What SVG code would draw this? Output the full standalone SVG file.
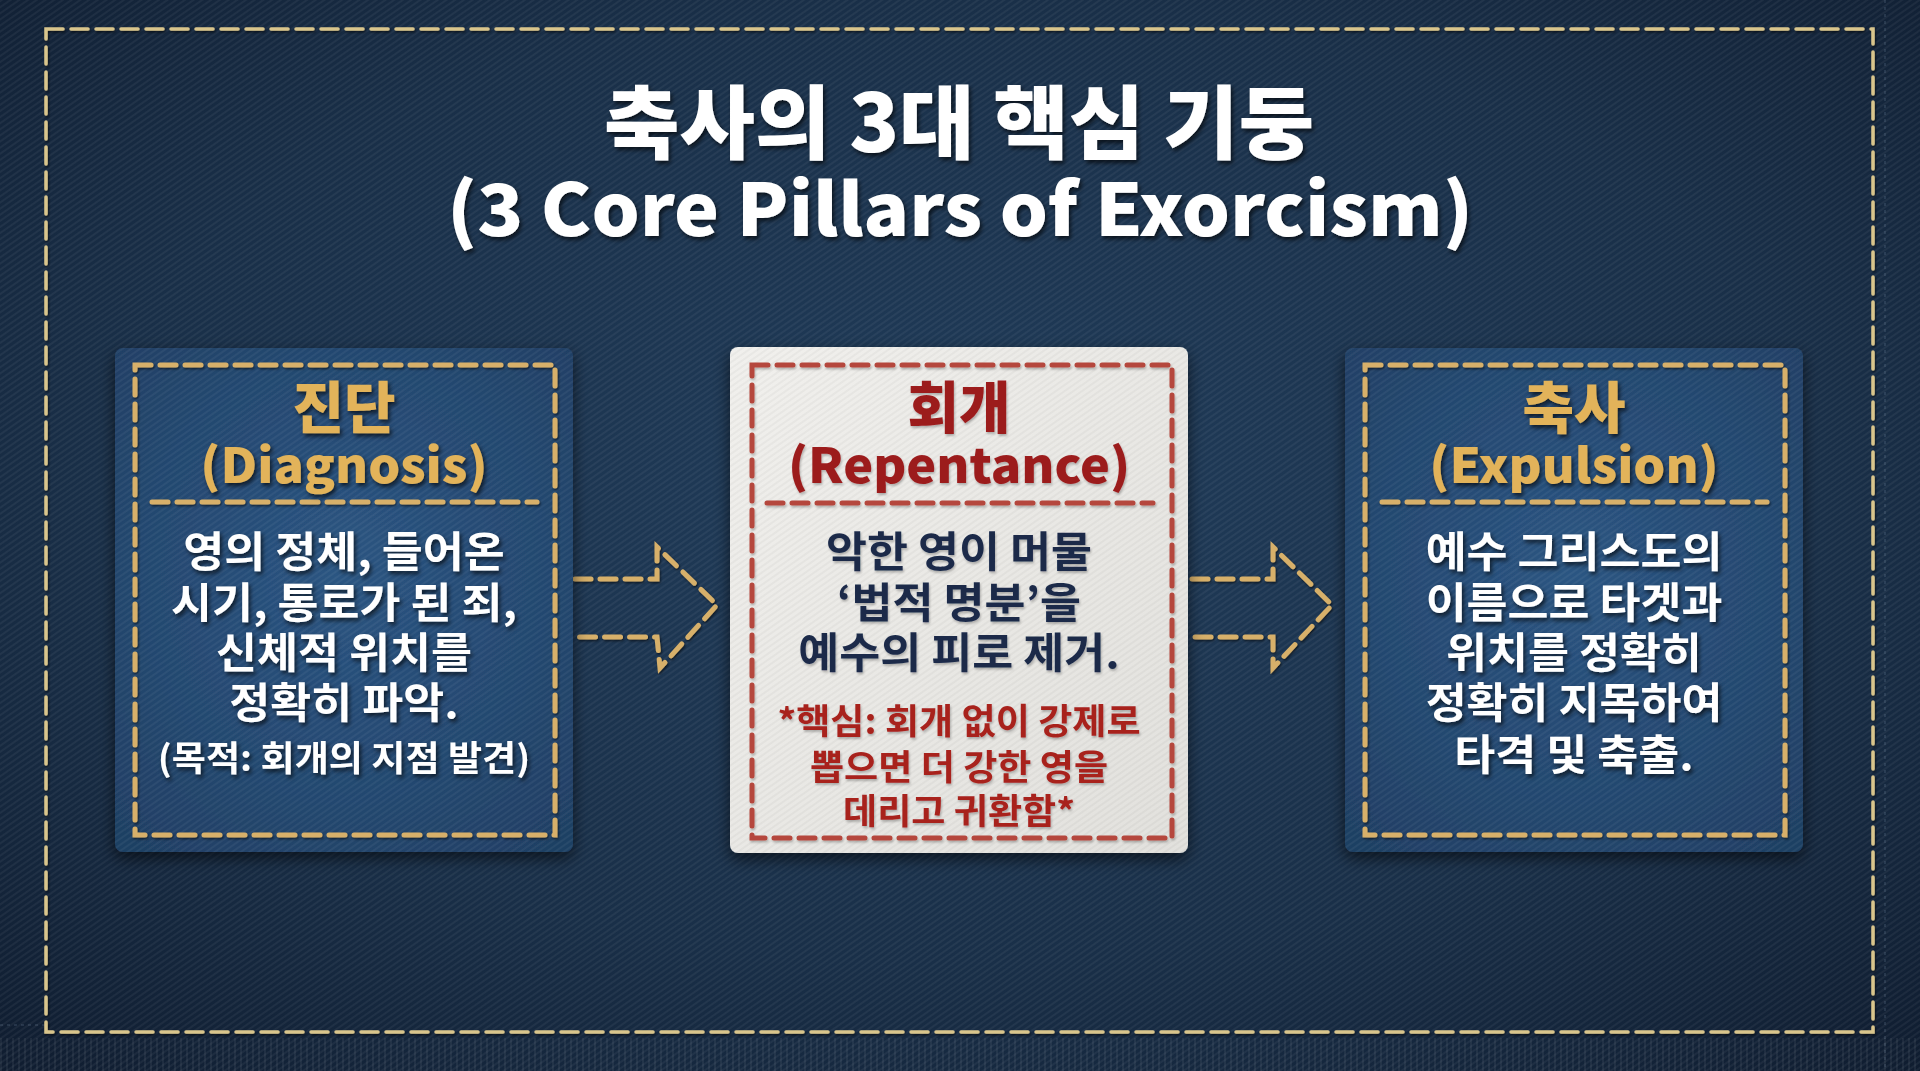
<svg xmlns="http://www.w3.org/2000/svg" width="1920" height="1071" viewBox="0 0 1920 1071">
  <defs>
    <radialGradient id="bgGrad" cx="50%" cy="45%" r="75%">
      <stop offset="0" stop-color="#203c5a"/>
      <stop offset="0.6" stop-color="#192f48"/>
      <stop offset="1" stop-color="#0f1c2f"/>
    </radialGradient>
    <radialGradient id="cardGrad" cx="50%" cy="45%" r="70%">
      <stop offset="0" stop-color="#2b5582"/>
      <stop offset="1" stop-color="#1f3f64"/>
    </radialGradient>
    <linearGradient id="whiteGrad" x1="0" y1="0" x2="1" y2="1">
      <stop offset="0" stop-color="#f1f0ed"/>
      <stop offset="1" stop-color="#e2e1dd"/>
    </linearGradient>
    <pattern id="twill" width="5" height="5" patternUnits="userSpaceOnUse" patternTransform="rotate(-35)">
      <rect width="5" height="2" fill="#ffffff" opacity="0.05"/>
    </pattern>
    <pattern id="twillDark" width="5" height="5" patternUnits="userSpaceOnUse" patternTransform="rotate(-35)">
      <rect width="5" height="2" fill="#000000" opacity="0.035"/>
    </pattern>
    <pattern id="rib" width="6" height="10" patternUnits="userSpaceOnUse">
      <rect width="2" height="10" fill="#ffffff" opacity="0.06"/>
    </pattern>
    <filter id="cardShadow" x="-10%" y="-10%" width="120%" height="120%">
      <feDropShadow dx="0" dy="6" stdDeviation="8" flood-color="#000" flood-opacity="0.6"/>
    </filter>
    <filter id="textShadow" x="-10%" y="-20%" width="120%" height="150%">
      <feDropShadow dx="2" dy="3" stdDeviation="2" flood-color="#000" flood-opacity="0.65"/>
    </filter>
    <filter id="stitchShadow" x="-5%" y="-5%" width="110%" height="110%">
      <feDropShadow dx="1" dy="1.5" stdDeviation="0.8" flood-color="#000" flood-opacity="0.6"/>
    </filter>
    <filter id="softText" x="-10%" y="-20%" width="120%" height="150%">
      <feDropShadow dx="1" dy="2" stdDeviation="1.2" flood-color="#000" flood-opacity="0.25"/>
    </filter>
  </defs>
  <style>
    text { font-family: "Noto Sans CJK KR", "Noto Sans", "Liberation Sans", sans-serif; font-weight: 700; text-anchor: middle; }
    .title { fill: #ffffff; font-weight: 900; }
    .hd { font-weight: 900; font-size: 56px; }
    .hdEn { font-weight: 900; font-size: 48px; }
    .gold { fill: #e2b35a; }
    .red { fill: #9c1d1f; }
    .body { fill: #ffffff; font-size: 42px; }
    .small { fill: #ffffff; font-size: 35px; }
    .navy { fill: #1b2a4a; font-size: 42px; }
    .note { fill: #a8231f; font-size: 35px; }
    .stitchGold { fill: none; stroke: #d7b06a; stroke-width: 5; stroke-linecap: round; stroke-dasharray: 16 9; }
    .stitchRed { fill: none; stroke: #b5473c; stroke-width: 5; stroke-linecap: round; stroke-dasharray: 16 9; }
    .stitchOuter { fill: none; stroke: #d9c58c; stroke-width: 3.5; stroke-linecap: round; stroke-dasharray: 17 8; }
  </style>

  <!-- background -->
  <rect x="0" y="0" width="1920" height="1071" fill="url(#bgGrad)"/>
  <rect x="0" y="0" width="1920" height="1071" fill="url(#twill)"/>
  <rect x="0" y="1038" width="1920" height="33" fill="url(#rib)"/>
  <line x1="1885" y1="0" x2="1885" y2="1071" stroke="#8aa0b8" stroke-width="1" stroke-dasharray="3 4" opacity="0.35"/>
  <line x1="0" y1="1025" x2="46" y2="1025" stroke="#8aa0b8" stroke-width="1" stroke-dasharray="3 4" opacity="0.35"/>
  <rect x="46" y="29" width="1827" height="1003" class="stitchOuter" filter="url(#stitchShadow)"/>

  <!-- title -->
  <g id="title" filter="url(#textShadow)">
    <text class="title" x="959" y="152" font-size="80" textLength="710" lengthAdjust="spacingAndGlyphs">축사의 3대 핵심 기둥</text>
    <text class="title" x="960" y="236" font-size="72" textLength="1026" lengthAdjust="spacingAndGlyphs">(3 Core Pillars of Exorcism)</text>
  </g>

  <!-- connectors -->
  <g id="connectors" filter="url(#stitchShadow)">
    <path class="stitchGold" d="M575,579 H657 V547 L717,605 L660,668 L657,637 H575"/>
    <path class="stitchGold" d="M1192,579 H1273 V547 L1332,605 L1273,668 V637 H1192"/>
  </g>

  <!-- node 1: diagnosis -->
  <g id="node-diagnosis">
    <rect x="115" y="348" width="458" height="504" rx="8" fill="url(#cardGrad)" filter="url(#cardShadow)"/>
    <rect x="115" y="348" width="458" height="504" rx="8" fill="url(#twill)"/>
    <g filter="url(#stitchShadow)">
      <rect x="135" y="365" width="420" height="470" class="stitchGold"/>
      <line x1="152" y1="502" x2="537" y2="502" class="stitchGold"/>
    </g>
    <g filter="url(#textShadow)">
      <text class="hd gold" x="344" y="428">진단</text>
      <text class="hdEn gold" x="344" y="483" transform="translate(344,0) scale(1.05,1) translate(-344,0)">(Diagnosis)</text>
      <g transform="translate(344,0) scale(1.06,1) translate(-344,0)">
        <text class="body" x="344" y="567">영의 정체, 들어온</text>
        <text class="body" x="344" y="618">시기, 통로가 된 죄,</text>
        <text class="body" x="344" y="668">신체적 위치를</text>
        <text class="body" x="344" y="718">정확히 파악.</text>
        <text class="small" x="344" y="771">(목적: 회개의 지점 발견)</text>
      </g>
    </g>
  </g>

  <!-- node 2: repentance -->
  <g id="node-repentance">
    <rect x="730" y="347" width="458" height="506" rx="8" fill="url(#whiteGrad)" filter="url(#cardShadow)"/>
    <rect x="730" y="347" width="458" height="506" rx="8" fill="url(#twillDark)"/>
    <g filter="url(#softText)">
      <rect x="752" y="365" width="420" height="473" class="stitchRed"/>
      <line x1="767" y1="503" x2="1153" y2="503" class="stitchRed"/>
    </g>
    <g filter="url(#softText)">
      <text class="hd red" x="959" y="428">회개</text>
      <text class="hdEn red" x="959" y="483" transform="translate(959,0) scale(1.05,1) translate(-959,0)">(Repentance)</text>
      <g transform="translate(959,0) scale(1.06,1) translate(-959,0)">
        <text class="navy" x="959" y="567">악한 영이 머물</text>
        <text class="navy" x="959" y="618">‘법적 명분’을</text>
        <text class="navy" x="959" y="668">예수의 피로 제거.</text>
        <text class="note" x="959" y="734">*핵심: 회개 없이 강제로</text>
        <text class="note" x="959" y="780">뽑으면 더 강한 영을</text>
        <text class="note" x="959" y="824">데리고 귀환함*</text>
      </g>
    </g>
  </g>

  <!-- node 3: expulsion -->
  <g id="node-expulsion">
    <rect x="1345" y="348" width="458" height="504" rx="8" fill="url(#cardGrad)" filter="url(#cardShadow)"/>
    <rect x="1345" y="348" width="458" height="504" rx="8" fill="url(#twill)"/>
    <g filter="url(#stitchShadow)">
      <rect x="1365" y="365" width="420" height="470" class="stitchGold"/>
      <line x1="1382" y1="502" x2="1767" y2="502" class="stitchGold"/>
    </g>
    <g filter="url(#textShadow)">
      <text class="hd gold" x="1574" y="428">축사</text>
      <text class="hdEn gold" x="1574" y="483" transform="translate(1574,0) scale(1.05,1) translate(-1574,0)">(Expulsion)</text>
      <g transform="translate(1574,0) scale(1.06,1) translate(-1574,0)">
        <text class="body" x="1574" y="567">예수 그리스도의</text>
        <text class="body" x="1574" y="618">이름으로 타겟과</text>
        <text class="body" x="1574" y="668">위치를 정확히</text>
        <text class="body" x="1574" y="718">정확히 지목하여</text>
        <text class="body" x="1574" y="770">타격 및 축출.</text>
      </g>
    </g>
  </g>
</svg>
